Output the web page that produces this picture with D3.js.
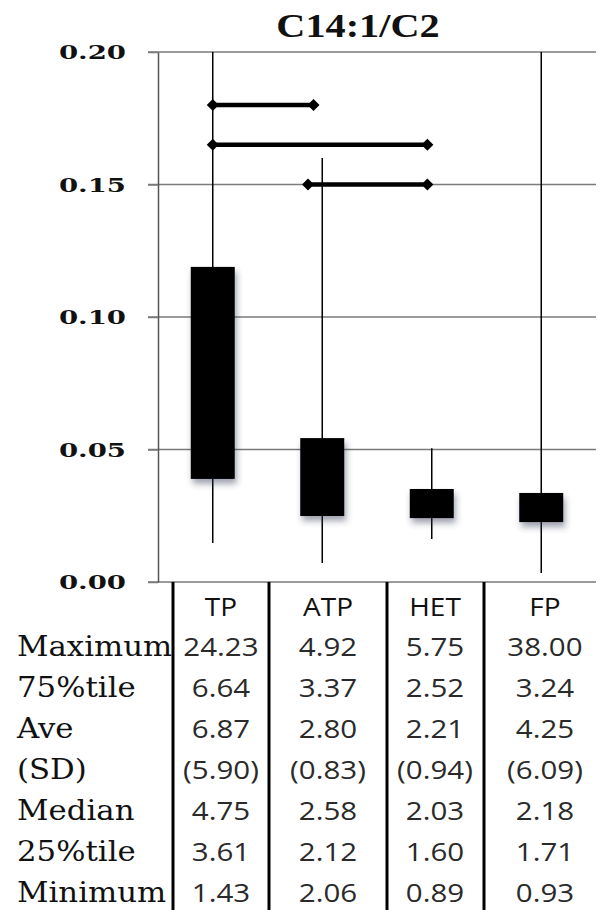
<!DOCTYPE html>
<html>
<head>
<meta charset="utf-8">
<script src="https://cdn.jsdelivr.net/npm/d3@7"></script>
<style>
  html, body { margin: 0; padding: 0; background: #fff; }
  svg { display: block; }
</style>
</head>
<body>
<svg id="chart" width="600" height="910"></svg>
<script>
// ---------- data ----------
const title = "C14:1/C2";
const categories = ["TP", "ATP", "HET", "FP"];
// box plot values (y axis 0 .. 0.20, whiskers clipped at top)
const whiskerLow  = [0.0147, 0.0072, 0.0162, 0.0034];
const boxLow      = [0.0389, 0.0249, 0.0241, 0.0226];
const boxHigh     = [0.1189, 0.0543, 0.0351, 0.0336];
const whiskerHigh = [0.2000, 0.1600, 0.0505, 0.2000];
const yTicks = [0.00, 0.05, 0.10, 0.15, 0.20];
// significance bars: [from category index, to category index, level]
const sigFrom  = [0.00, 0.00, 0.87];
const sigTo    = [0.92, 1.96, 1.96];
const sigLevel = [0.180, 0.165, 0.150];
// table below the chart
const rowLabels = ["Maximum", "75%tile", "Ave", "(SD)", "Median", "25%tile", "Minimum"];
const maximum = [24.23, 4.92, 5.75, 38.00];
const pct75   = [6.64, 3.37, 2.52, 3.24];
const average = [6.87, 2.80, 2.21, 4.25];
const sd      = [5.90, 0.83, 0.94, 6.09];
const median  = [4.75, 2.58, 2.03, 2.18];
const pct25   = [3.61, 2.12, 1.60, 1.71];
const minimum = [1.43, 2.06, 0.89, 0.93];

// ---------- layout ----------
const svg = d3.select("#chart");
const plot = { left: 158, right: 596, top: 52, bottom: 582 };
const x = d3.scaleBand().domain(categories).range([plot.left, plot.right]).padding(0);
const xi = d3.scaleLinear().domain([0, 1]).range([x(categories[0]) + x.bandwidth() / 2, x(categories[1]) + x.bandwidth() / 2]);
const y = d3.scaleLinear().domain([0, 0.2]).range([plot.bottom, plot.top]);
const boxW = 44;

// stretch text horizontally (reference image is horizontally stretched)
function stretch(sel, k) {
  sel.each(function () {
    const w = this.getComputedTextLength();
    d3.select(this).attr("textLength", w * k).attr("lengthAdjust", "spacingAndGlyphs");
  });
}

// drop shadow
const defs = svg.append("defs");
const f = defs.append("filter").attr("id", "shadow").attr("x", "-30%").attr("y", "-30%").attr("width", "170%").attr("height", "170%");
f.append("feDropShadow").attr("dx", 2).attr("dy", 5).attr("stdDeviation", 3)
  .attr("flood-color", "#2a3350").attr("flood-opacity", 0.45);

// gridlines
svg.append("g").selectAll("line").data(yTicks).join("line")
  .attr("x1", plot.left - 10).attr("x2", plot.right)
  .attr("y1", d => y(d)).attr("y2", d => y(d))
  .attr("stroke", "#7a7a7a").attr("stroke-width", 1.5);

// y axis
const yAxis = d3.axisLeft(y).tickValues(yTicks).tickFormat(d3.format(".2f"))
  .tickSizeInner(10).tickSizeOuter(0).tickPadding(22);
const gy = svg.append("g").attr("transform", `translate(${plot.left},0)`).call(yAxis);
gy.select(".domain").attr("stroke", "#555").attr("stroke-width", 1.5);
gy.selectAll(".tick line").attr("stroke", "#7a7a7a").attr("stroke-width", 1.5);
gy.selectAll(".tick text")
  .attr("font-family", "'DejaVu Serif', serif").attr("font-size", 19).attr("font-weight", "bold")
  .attr("fill", "#111").attr("dy", "0.36em");
stretch(gy.selectAll(".tick text"), 1.45);

// title
const t = svg.append("text").attr("x", 358).attr("y", 37).attr("text-anchor", "middle")
  .attr("font-family", "'Liberation Serif', serif").attr("font-size", 33).attr("font-weight", "bold")
  .attr("fill", "#111").text(title);
stretch(t, 1.22);

// whiskers
const idx = categories.map((c, i) => i);
const cx = i => x(categories[i]) + x.bandwidth() / 2;
svg.append("g").selectAll("line").data(idx).join("line")
  .attr("x1", cx).attr("x2", cx)
  .attr("y1", i => y(Math.min(whiskerHigh[i], 0.2))).attr("y2", i => y(whiskerLow[i]))
  .attr("stroke", "#000").attr("stroke-width", 1.5);

// boxes
svg.append("g").attr("filter", "url(#shadow)").selectAll("rect").data(idx).join("rect")
  .attr("x", i => cx(i) - boxW / 2).attr("width", boxW)
  .attr("y", i => y(boxHigh[i])).attr("height", i => y(boxLow[i]) - y(boxHigh[i]))
  .attr("fill", "#000");

// significance bars
const gs = svg.append("g");
const sIdx = sigLevel.map((d, i) => i);
gs.selectAll("line").data(sIdx).join("line")
  .attr("x1", i => xi(sigFrom[i])).attr("x2", i => xi(sigTo[i]))
  .attr("y1", i => y(sigLevel[i])).attr("y2", i => y(sigLevel[i]))
  .attr("stroke", "#000").attr("stroke-width", 4.5);
const diamond = (px, py) => `M${px - 6},${py} L${px},${py - 6} L${px + 6},${py} L${px},${py + 6} Z`;
gs.selectAll("path").data(sIdx.flatMap(i => [[sigFrom[i], sigLevel[i]], [sigTo[i], sigLevel[i]]])).join("path")
  .attr("d", d => diamond(xi(d[0]), y(d[1]))).attr("fill", "#000");

// ---------- table ----------
const sepX = [173, 269, 387, 484];
const colCenter = [221, 328, 435, 545];
const headerY = 616;
const rowY = rowLabels.map((d, i) => 656 + i * 41);
const tableRows = [maximum, pct75, average, sd, median, pct25, minimum];

svg.append("g").selectAll("line").data(sepX).join("line")
  .attr("x1", d => d).attr("x2", d => d).attr("y1", plot.bottom).attr("y2", 910)
  .attr("stroke", "#000").attr("stroke-width", 3);

const hdr = svg.append("g").selectAll("text").data(categories).join("text")
  .attr("x", (d, i) => colCenter[i]).attr("y", headerY).attr("text-anchor", "middle")
  .attr("font-family", "'Open Sans', sans-serif").attr("font-size", 25).attr("fill", "#111")
  .text(d => d);
stretch(hdr, 1.12);

const lbl = svg.append("g").selectAll("text").data(rowLabels).join("text")
  .attr("x", 17).attr("y", (d, i) => rowY[i])
  .attr("font-family", "'DejaVu Serif', serif").attr("font-size", 27).attr("fill", "#111")
  .text(d => d);
stretch(lbl, 1.14);

const fmt = d3.format(".2f");
const cells = [];
tableRows.forEach((row, r) => row.forEach((v, c) => cells.push({ r, c, s: r === 3 ? `(${fmt(v)})` : fmt(v) })));
const vals = svg.append("g").selectAll("text").data(cells).join("text")
  .attr("x", d => colCenter[d.c]).attr("y", d => rowY[d.r]).attr("text-anchor", "middle")
  .attr("font-family", "'Open Sans', sans-serif").attr("font-size", 25).attr("fill", "#2a2a2a")
  .text(d => d.s);
stretch(vals, 1.18);
</script>
</body>
</html>
